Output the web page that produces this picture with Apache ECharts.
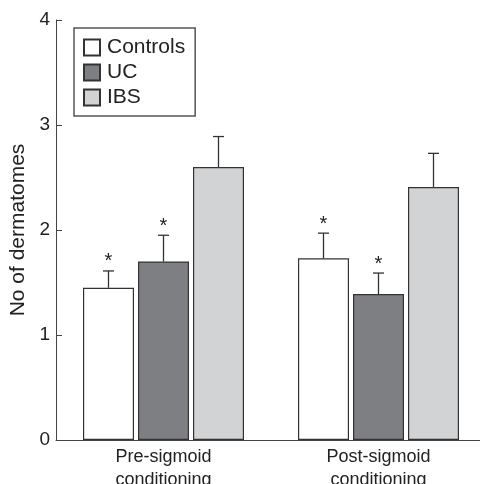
<!DOCTYPE html>
<html>
<head>
<meta charset="utf-8">
<script src="https://cdn.jsdelivr.net/npm/echarts@6/dist/echarts.min.js"></script>
<style>
html,body{margin:0;padding:0;background:#fff;}
#chart{width:480px;height:484px;}
</style>
</head>
<body>
<div id="chart"></div>
<script>
// ---- data ----
const categories = ['Pre-sigmoid\nconditioning', 'Post-sigmoid\nconditioning'];
const seriesNames = ['Controls', 'UC', 'IBS'];
const controls = [1.45, 1.73];
const uc = [1.70, 1.39];
const ibs = [2.60, 2.41];
const controlsErr = [0.16, 0.24];
const ucErr = [0.25, 0.20];
const ibsErr = [0.29, 0.32];
const controlsSig = [1, 1];
const ucSig = [1, 1];
const ibsSig = [0, 0];
const yTicks = [0, 1, 2, 3, 4];

// ---- styles ----
const FONT = 'Liberation Sans, Arial, Helvetica, sans-serif';
const TEXT = '#222';
const BAR_W = 51;
const BAR_GAP_PX = 4;
const colors = ['#ffffff', '#7e7f83', '#d2d3d5'];
const values = [controls, uc, ibs];
const errs = [controlsErr, ucErr, ibsErr];
const sigs = [controlsSig, ucSig, ibsSig];

const errData = [];
values.forEach((vals, k) => {
  vals.forEach((v, c) => {
    errData.push([c, v, errs[k][c], k, sigs[k][c]]);
  });
});

const chart = echarts.init(document.getElementById('chart'), null, {renderer: 'canvas'});

const barSeries = seriesNames.map((name, k) => ({
  name: name,
  type: 'bar',
  data: values[k],
  barWidth: BAR_W,
  barGap: (BAR_GAP_PX / BAR_W * 100).toFixed(2) + '%',
  itemStyle: {color: colors[k], borderColor: '#333', borderWidth: 1.2},
  emphasis: {disabled: true},
  z: 2
}));

const errSeries = {
  type: 'custom',
  data: errData,
  z: 5,
  silent: true,
  renderItem: function (params, api) {
    const c = api.value(0), v = api.value(1), e = api.value(2), k = api.value(3), s = api.value(4);
    const base = api.coord([c, v]);
    const x = base[0] + (k - 1) * (BAR_W + BAR_GAP_PX);
    const y0 = base[1];
    const y1 = api.coord([c, v + e])[1];
    const st = {stroke: '#333', lineWidth: 1.3};
    const children = [
      {type: 'line', shape: {x1: x, y1: y0, x2: x, y2: y1}, style: st},
      {type: 'line', shape: {x1: x - 5.5, y1: y1, x2: x + 5.5, y2: y1}, style: st}
    ];
    if (s) {
      children.push({
        type: 'text',
        style: {text: '*', x: x, y: y1 - 9, align: 'center', verticalAlign: 'middle',
                font: '20px ' + FONT, fill: TEXT}
      });
    }
    return {type: 'group', children: children};
  }
};

chart.setOption({
  animation: false,
  backgroundColor: '#fff',
  textStyle: {fontFamily: FONT},
  legend: {
    data: seriesNames,
    orient: 'vertical',
    left: 74,
    top: 28,
    padding: [9, 10, 8, 9],
    itemWidth: 16,
    itemHeight: 16,
    itemGap: 4,
    icon: 'rect',
    borderColor: '#555',
    borderWidth: 1.5,
    selectedMode: false,
    textStyle: {fontSize: 21, color: TEXT, fontFamily: FONT, padding: [0, 0, 0, 2]}
  },
  grid: {left: 56, top: 20, width: 430, height: 420, containLabel: false, outerBoundsMode: 'none'},
  xAxis: {
    type: 'category',
    data: categories,
    axisTick: {show: false},
    axisLine: {lineStyle: {color: '#444', width: 1}},
    axisLabel: {fontSize: 18, color: TEXT, fontFamily: FONT, lineHeight: 23, margin: 6, interval: 0}
  },
  yAxis: {
    type: 'value',
    min: yTicks[0],
    max: yTicks[yTicks.length - 1],
    interval: 1,
    name: 'No of dermatomes',
    nameLocation: 'middle',
    nameGap: 27,
    nameTextStyle: {fontSize: 21, color: TEXT, fontFamily: FONT},
    axisLine: {show: true, lineStyle: {color: '#444', width: 1}},
    axisTick: {show: true, inside: true, length: 6, lineStyle: {color: '#444'}},
    axisLabel: {fontSize: 19, color: TEXT, fontFamily: FONT, margin: 6},
    splitLine: {show: false}
  },
  series: barSeries.concat([errSeries])
});
</script>
</body>
</html>
